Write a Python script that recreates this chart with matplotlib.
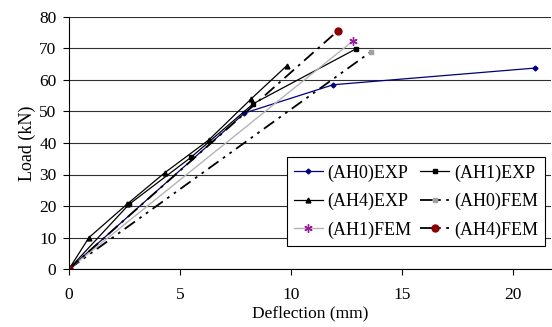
import matplotlib.pyplot as plt

plt.rcParams['font.family'] = ['Liberation Serif', 'DejaVu Serif']

# deflection (mm) / load (kN)
ah0_exp_x = [0, 7.9, 11.9, 21.0]
ah0_exp_y = [0, 49.5, 58.5, 63.8]
ah1_exp_x = [0, 2.7, 5.5, 8.3, 12.9]
ah1_exp_y = [0, 20.5, 35.5, 52.5, 69.8]
ah4_exp_x = [0, 0.9, 2.6, 4.3, 6.3, 8.2, 9.8]
ah4_exp_y = [0, 10, 20.5, 30.5, 41, 54, 64.5]
ah0_fem_x = [0, 13.6]
ah0_fem_y = [0, 69]
ah1_fem_x = [0, 12.8]
ah1_fem_y = [0, 72.5]
ah4_fem_x = [0, 12.1]
ah4_fem_y = [0, 75.6]

fig = plt.figure(figsize=(5.52, 3.27), dpi=100)
ax = fig.add_axes([69/552, 58/327, (551-69)/552, (269-17)/327])

l1, = ax.plot(ah0_exp_x, ah0_exp_y, color='#000080', lw=0.9, marker='D', ms=2.5, label='(AH0)EXP')
l2, = ax.plot(ah1_exp_x, ah1_exp_y, color='black', lw=0.9, marker='s', ms=3.5, label='(AH1)EXP')
l3, = ax.plot(ah4_exp_x, ah4_exp_y, color='black', lw=0.9, marker='^', ms=3.5, label='(AH4)EXP')
l4, = ax.plot(ah0_fem_x, ah0_fem_y, color='black', lw=1.3, ls=(0, (7, 3, 1.5, 3, 1.5, 3)),
              marker='s', ms=3.5, mfc='#a0a0a0', mec='#a0a0a0', label='(AH0)FEM')
l5, = ax.plot(ah1_fem_x, ah1_fem_y, color='#b4b4b4', lw=1.0, marker=(6, 2, 0), ms=6,
              mec='#9a1a9a', mfc='#9a1a9a', label='(AH1)FEM')
l6, = ax.plot(ah4_fem_x, ah4_fem_y, color='black', lw=1.3, ls=(0, (7, 3, 1.5, 3)),
              marker='o', ms=5, mfc='#8b0000', mec='#8b0000', label='(AH4)FEM')

ax.set_xlim(0, 21.7)
ax.set_ylim(0, 80)
ax.set_xticks([0, 5, 10, 15, 20])
ax.set_yticks(range(0, 81, 10))
ax.yaxis.grid(True, color='#303030', lw=0.8)
ax.set_axisbelow(True)
for s in ['top', 'right']:
    ax.spines[s].set_visible(False)
ax.tick_params(direction='out', labelsize=12.5, length=4)
ax.tick_params(axis='x', pad=9)
ax.tick_params(axis='y', pad=5)
ax.set_xlabel('Deflection (mm)', fontsize=12.5, labelpad=2)
ax.set_ylabel('Load (kN)', fontsize=13, labelpad=2)

# row-wise order like the original
handles = [l1, l3, l5, l2, l4, l6]
leg = ax.legend(handles=handles, labels=[h.get_label() for h in handles], ncol=2,
                loc='lower right', bbox_to_anchor=(0.9876, 0.091), fontsize=13,
                frameon=True, fancybox=False, edgecolor='black', framealpha=1,
                handlelength=1.6, columnspacing=0.5, labelspacing=0.62, borderpad=0.4,
                handletextpad=0.25, borderaxespad=0)
leg.get_frame().set_linewidth(0.8)

fig.savefig('out.png', dpi=100)
